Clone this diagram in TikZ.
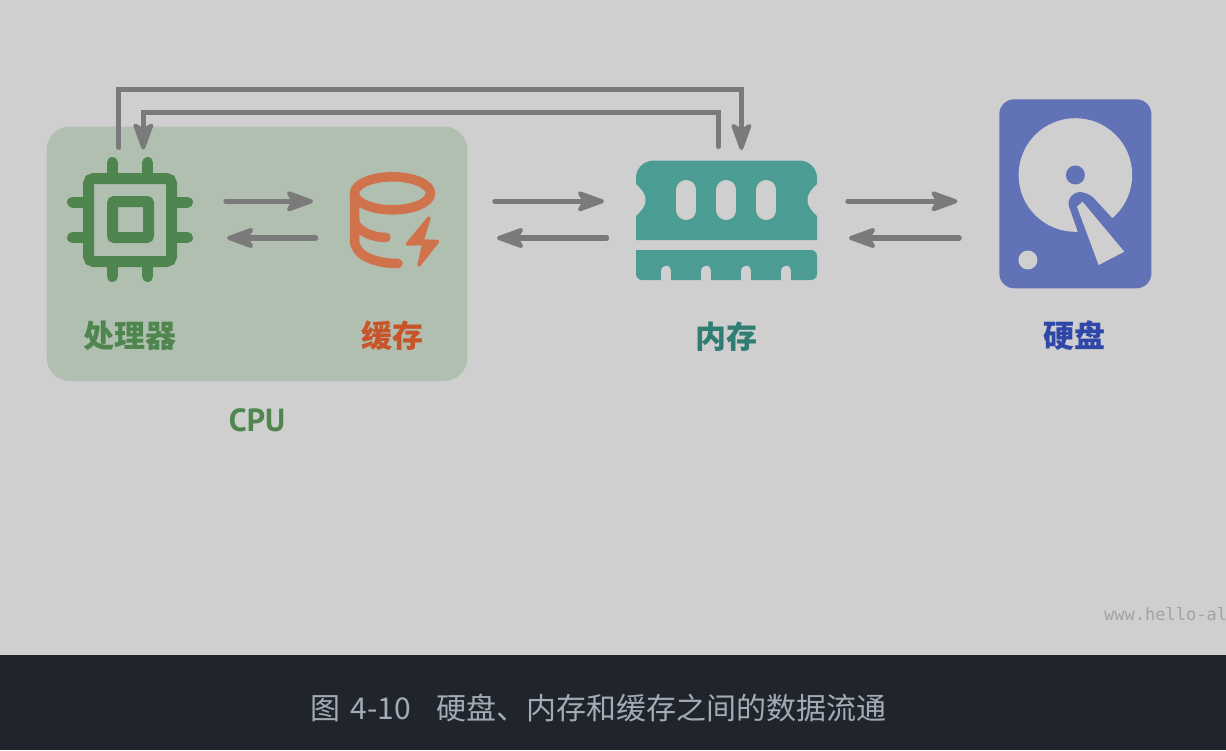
\documentclass[tikz,border=0pt]{standalone}
\usepackage{fontspec}
\usepackage{xcolor}
\usetikzlibrary{arrows.meta}
\newfontfamily\cjk{Noto Sans CJK SC}
\newfontfamily\latinbold{PT Sans}
\setmonofont{DejaVu Sans Mono}
\definecolor{pagegray}{HTML}{CFCFCF}
\definecolor{bardark}{HTML}{20242C}
\definecolor{capgray}{HTML}{A4ABB4}
\definecolor{markgray}{HTML}{A2A2A2}
\definecolor{linegray}{HTML}{7A7A7A}
\definecolor{cpubox}{HTML}{B0BFB0}
\definecolor{cpugreen}{HTML}{4F864F}
\definecolor{cacheicon}{HTML}{D0724C}
\definecolor{cachetext}{HTML}{C8552A}
\definecolor{ramicon}{HTML}{4B9D94}
\definecolor{ramtext}{HTML}{2F7D73}
\definecolor{diskicon}{HTML}{6272B6}
\definecolor{disktext}{HTML}{2F47A8}
\pgfdeclarearrow{
  name=FlowHead,
  setup code={\pgfarrowssettipend{0pt}\pgfarrowssetbackend{-26pt}\pgfarrowssetlineend{-12pt}},
  drawing code={
    \pgfsetdash{}{0pt}\pgfsetroundjoin\pgfsetroundcap\pgfsetlinewidth{4pt}
    \pgfsetcolor{linegray}
    \pgfpathmoveto{\pgfpoint{-2pt}{0pt}}
    \pgfpathlineto{\pgfpoint{-24pt}{8pt}}
    \pgfpathlineto{\pgfpoint{-19pt}{0pt}}
    \pgfpathlineto{\pgfpoint{-24pt}{-8pt}}
    \pgfpathclose
    \pgfusepathqfillstroke
  }
}
\tikzset{
  flowarrow/.style={draw=linegray, line width=5.5pt, line cap=round, line join=round, -{FlowHead}},
  busline/.style={flowarrow, line width=5pt, line join=miter},
  partlabel/.style={font=\cjk\bfseries\fontsize{31}{31}\selectfont, inner sep=0pt},
}

\begin{document}
\begin{tikzpicture}[x=1pt, y=-1pt]
    \useasboundingbox (0,0) rectangle (1226,750);
    % Page and caption bar
    \fill[pagegray] (0,0) rectangle (1226,655);
    \fill[bardark] (0,655) rectangle (1226,750);
    % CPU box
    \fill[cpubox, rounded corners=23pt] (46.7,126.7) rectangle (467.3,381);

    % Processor icon
    \draw[cpugreen, line width=11pt, rounded corners=5pt] (88.5,178.5) rectangle (171.5,261.5);
    \draw[cpugreen, line width=11pt, rounded corners=2pt] (112.5,201.5) rectangle (148.5,237.5);
    \draw[cpugreen, line width=11pt, line cap=round] (112.3,162.5) -- (112.3,175);
    \draw[cpugreen, line width=11pt, line cap=round] (147.7,162.5) -- (147.7,175);
    \draw[cpugreen, line width=11pt, line cap=round] (112.3,265) -- (112.3,276.5);
    \draw[cpugreen, line width=11pt, line cap=round] (147.7,265) -- (147.7,276.5);
    \draw[cpugreen, line width=11pt, line cap=round] (72.5,202) -- (85,202);
    \draw[cpugreen, line width=11pt, line cap=round] (72.5,237.7) -- (85,237.7);
    \draw[cpugreen, line width=11pt, line cap=round] (175,202) -- (187.5,202);
    \draw[cpugreen, line width=11pt, line cap=round] (175,237.7) -- (187.5,237.7);

    % Cache icon
    \draw[cacheicon, line width=9.5pt] (392.5,193.3) ellipse [x radius=38pt, y radius=16.5pt];
    \draw[cacheicon, line width=9.5pt, line cap=round] (354.5,193.3) -- (354.5,240)
        .. controls (354.5,256) and (376,263.5) .. (398,263.5);
    \draw[cacheicon, line width=9.5pt, line cap=round] (354.5,222)
        .. controls (358,231) and (372,237.5) .. (386,237.5);
    \fill[cacheicon, draw=cacheicon, line width=3.5pt, line join=round] (429,218) -- (407.5,244) -- (424,243.5)
        -- (419,265) -- (437.5,241.5) -- (422,241) -- cycle;

    % Memory icon
    \fill[ramicon] (636,240) -- (636,216) .. controls (640,212) and (645.5,208) .. (645.5,200)
        .. controls (645.5,192) and (640,188) .. (636,184) -- (636,178)
        .. controls (636,168) and (644,160.5) .. (654,160.5) -- (799,160.5)
        .. controls (809,160.5) and (817,168) .. (817,178) -- (817,184)
        .. controls (813,188) and (807.5,192) .. (807.5,200)
        .. controls (807.5,208) and (813,212) .. (817,216) -- (817,240) -- cycle;
    \fill[ramicon, rounded corners=6pt] (636,250) -- (636,280) -- (817,280) -- (817,250) [sharp corners] -- cycle;
    \draw[pagegray, line width=20pt, line cap=round] (686.4,190) -- (686.4,210);
    \draw[pagegray, line width=20pt, line cap=round] (726.4,190) -- (726.4,210);
    \draw[pagegray, line width=20pt, line cap=round] (766.4,190) -- (766.4,210);
    \draw[pagegray, line width=10pt, line cap=round] (666.4,270.7) -- (666.4,287);
    \draw[pagegray, line width=10pt, line cap=round] (706.4,270.7) -- (706.4,287);
    \draw[pagegray, line width=10pt, line cap=round] (746.4,270.7) -- (746.4,287);
    \draw[pagegray, line width=10pt, line cap=round] (786.4,270.7) -- (786.4,287);

    % Disk icon
    \fill[diskicon, rounded corners=15pt] (999.3,99.3) rectangle (1151.4,288.3);
    \fill[pagegray] (1075.4,175) circle (56.8pt);
    \fill[diskicon] (1075.4,175) circle (9.5pt);
    \fill[pagegray] (1027.9,260) circle (9.5pt);
    \fill[diskicon, rounded corners=6pt] (1067,201) -- (1076,191) -- (1090,194) -- (1135,243) -- (1128,262) -- (1092,272) -- cycle;
    \fill[pagegray] (1082.5,201.7) -- (1077,206.7) -- (1098.6,265) -- (1124.3,251.7) -- cycle;

    % Labels
    \node[partlabel, cpugreen] (cpulabel) at (130,336) {处理器};
    \node[partlabel, cachetext] (cachelabel) at (392,336) {缓存};
    \node[partlabel, ramtext] (ramlabel) at (726.5,337) {内存};
    \node[partlabel, disktext] (disklabel) at (1074,336) {硬盘};
    \node[partlabel, cpugreen, font=\latinbold\bfseries\fontsize{32}{32}\selectfont] (boxlabel) at (257,420.5) {CPU};
    \node[font=\ttfamily\fontsize{17}{17}\selectfont, text=markgray, anchor=west, inner sep=0pt] (webmark) at (1104,614) {www.hello-al};
    \node[font=\cjk\fontsize{30}{30}\selectfont, text=capgray, inner sep=0pt] (caption) at (598.5,708) {图\hspace{10pt}4-10\hspace{25pt}硬盘、内存和缓存之间的数据流通};

    % End points of the connectors
    \coordinate (cpuout) at (118.5,147.5);
    \coordinate (cpuin) at (143.3,149.5);
    \coordinate (ramin) at (741.4,150);
    \coordinate (ramout) at (718.2,146.5);
    \coordinate (toptwo) at (118.5,89);
    \coordinate (topone) at (741.4,89);
    \coordinate (lowone) at (718.2,112.7);
    \coordinate (lowtwo) at (143.3,112.7);
    \coordinate (cpuright) at (226,201.3);
    \coordinate (cacheleft) at (313,201.3);
    \coordinate (cacheback) at (315.5,238);
    \coordinate (cpuback) at (227,238);
    \coordinate (cacheright) at (495,201.3);
    \coordinate (ramleft) at (604,201.3);
    \coordinate (ramback) at (606.5,238);
    \coordinate (cacheend) at (497,238);
    \coordinate (ramright) at (848,201.3);
    \coordinate (diskleft) at (957.5,201.3);
    \coordinate (diskback) at (959,238);
    \coordinate (ramend) at (849,238);

    % Connectors
    \draw[busline] (cpuout) -- (toptwo) -- (topone) -- (ramin);
    \draw[busline] (ramout) -- (lowone) -- (lowtwo) -- (cpuin);
    \draw[flowarrow] (cpuright) -- (cacheleft);
    \draw[flowarrow] (cacheback) -- (cpuback);
    \draw[flowarrow] (cacheright) -- (ramleft);
    \draw[flowarrow] (ramback) -- (cacheend);
    \draw[flowarrow] (ramright) -- (diskleft);
    \draw[flowarrow] (diskback) -- (ramend);
\end{tikzpicture}
\end{document}
